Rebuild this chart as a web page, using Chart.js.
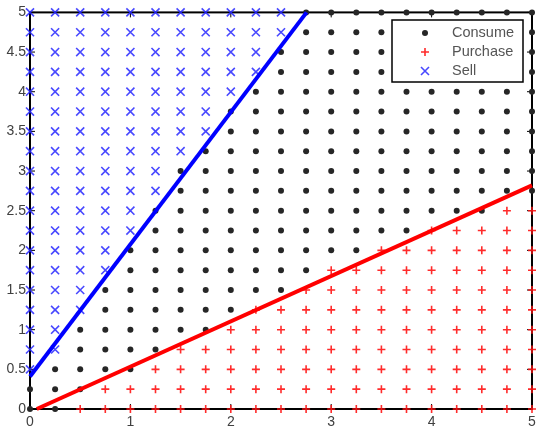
<!DOCTYPE html>
<html>
<head>
<meta charset="utf-8">
<script src="https://cdn.jsdelivr.net/npm/chart.js@4/dist/chart.umd.min.js"></script>
<style>
html,body{margin:0;padding:0;background:#ffffff;}
#wrap{width:541px;height:435px;position:relative;}
canvas{display:block;}
</style>
</head>
<body>
<div id="wrap"><canvas id="c" width="541" height="435"></canvas></div>
<script>
// ---- data ----
const gridX = [0,0.25,0.5,0.75,1,1.25,1.5,1.75,2,2.25,2.5,2.75,3,3.25,3.5,3.75,4,4.25,4.5,4.75,5];
const gridY = [0,0.25,0.5,0.75,1,1.25,1.5,1.75,2,2.25,2.5,2.75,3,3.25,3.5,3.75,4,4.25,4.5,4.75,5];
// lowest y marked "Sell" in each column of gridX (null = none)
const sellFromY = [0.5,0.75,1.25,1.75,2.25,2.75,3.25,3.5,4,4.25,4.75,null,null,null,null,null,null,null,null,null,null];
// highest y marked "Purchase" in each column of gridX (null = none)
const purchaseUpToY = [null,null,0,0.25,0.25,0.5,0.75,0.75,1,1.25,1.25,1.5,1.75,1.75,2,2,2.25,2.25,2.25,2.5,2.5];
// boundary lines
const sellLine = [{x:0,y:0.41},{x:2.755,y:5}];
const purchaseLine = [{x:0.067,y:0},{x:5,y:2.82}];
const seriesNames = ['Consume','Purchase','Sell'];
const xTicks = [0,1,2,3,4,5];
const yTicks = [0,0.5,1,1.5,2,2.5,3,3.5,4,4.5,5];

// ---- build point sets ----
const consumePts = [], purchasePts = [], sellPts = [];
gridX.forEach((x, i) => {
  gridY.forEach(y => {
    const s = sellFromY[i], p = purchaseUpToY[i];
    if (s !== null && y >= s) sellPts.push({x, y});
    else if (p !== null && y <= p) purchasePts.push({x, y});
    else consumePts.push({x, y});
  });
});

const COL_CONSUME = '#262626';
const COL_PURCHASE = 'rgba(255,20,20,0.9)';
const COL_SELL = 'rgba(40,40,255,0.85)';
const FONT = "'Liberation Sans', Arial, sans-serif";

const frame = {
  id: 'frame',
  beforeDatasetsDraw(chart) {
    const {ctx, chartArea: a, scales} = chart;
    ctx.save();
    ctx.strokeStyle = '#000';
    ctx.lineWidth = 1;
    const tl = 5;
    ctx.beginPath();
    xTicks.forEach(v => {
      const px = scales.x.getPixelForValue(v);
      ctx.moveTo(px, a.bottom); ctx.lineTo(px, a.bottom - tl);
      ctx.moveTo(px, a.top); ctx.lineTo(px, a.top + tl);
    });
    yTicks.forEach(v => {
      const py = scales.y.getPixelForValue(v);
      ctx.moveTo(a.left, py); ctx.lineTo(a.left + tl, py);
      ctx.moveTo(a.right, py); ctx.lineTo(a.right - tl, py);
    });
    ctx.stroke();
    ctx.lineWidth = 2;
    ctx.strokeRect(a.left, a.top, a.right - a.left, a.bottom - a.top);
    ctx.restore();
  }
};

function drawMarker(ctx, kind, x, y) {
  ctx.save();
  if (kind === 0) {
    ctx.fillStyle = COL_CONSUME;
    ctx.beginPath(); ctx.arc(x, y, 3, 0, Math.PI * 2); ctx.fill();
  } else if (kind === 1) {
    ctx.strokeStyle = COL_PURCHASE; ctx.lineWidth = 1.6;
    ctx.beginPath();
    ctx.moveTo(x - 4, y); ctx.lineTo(x + 4, y);
    ctx.moveTo(x, y - 4); ctx.lineTo(x, y + 4);
    ctx.stroke();
  } else {
    ctx.strokeStyle = COL_SELL; ctx.lineWidth = 1.6;
    ctx.beginPath();
    ctx.moveTo(x - 4, y - 4); ctx.lineTo(x + 4, y + 4);
    ctx.moveTo(x + 4, y - 4); ctx.lineTo(x - 4, y + 4);
    ctx.stroke();
  }
  ctx.restore();
}

const boxLegend = {
  id: 'boxLegend',
  afterDatasetsDraw(chart) {
    const {ctx} = chart;
    const L = 392, T = 20, W = 131, H = 62;
    ctx.save();
    ctx.fillStyle = '#fff';
    ctx.fillRect(L, T, W, H);
    ctx.strokeStyle = '#000';
    ctx.lineWidth = 1.5;
    ctx.strokeRect(L, T, W, H);
    ctx.font = '14.5px ' + FONT;
    ctx.textBaseline = 'middle';
    ctx.textAlign = 'left';
    seriesNames.forEach((name, i) => {
      const y = T + 13 + i * 19;
      drawMarker(ctx, i, 425, y);
      ctx.fillStyle = '#555555';
      ctx.fillText(name, 452, y);
    });
    ctx.restore();
  }
};

new Chart(document.getElementById('c'), {
  type: 'scatter',
  data: {
    datasets: [
      {label: 'sellLine', type: 'line', data: sellLine, borderColor: '#0000ff', borderWidth: 4,
       pointRadius: 0, fill: false, showLine: true, order: 0, clip: false},
      {label: 'purchaseLine', type: 'line', data: purchaseLine, borderColor: '#ff0000', borderWidth: 4,
       pointRadius: 0, fill: false, showLine: true, order: 0, clip: false},
      {label: seriesNames[0], data: consumePts, pointStyle: 'circle', pointRadius: 3,
       backgroundColor: COL_CONSUME, borderColor: COL_CONSUME, borderWidth: 0, order: 1, clip: false},
      {label: seriesNames[1], data: purchasePts, pointStyle: 'cross', pointRadius: 4,
       backgroundColor: COL_PURCHASE, borderColor: COL_PURCHASE, borderWidth: 1.6, order: 1, clip: false},
      {label: seriesNames[2], data: sellPts, pointStyle: 'crossRot', pointRadius: 5.7,
       backgroundColor: COL_SELL, borderColor: COL_SELL, borderWidth: 1.6, order: 1, clip: false}
    ]
  },
  options: {
    responsive: false,
    animation: false,
    devicePixelRatio: 1,
    layout: {padding: {top: 12, right: 9, left: 0, bottom: 0}},
    plugins: {legend: {display: false}, tooltip: {enabled: false}},
    scales: {
      x: {
        type: 'linear', min: 0, max: 5,
        afterBuildTicks(s) { s.ticks = xTicks.map(v => ({value: v})); },
        ticks: {padding: 5, color: '#404040', font: {family: FONT, size: 14}, maxRotation: 0, autoSkip: false,
                callback: v => String(v)},
        grid: {display: false, drawTicks: false},
        border: {display: false},
        afterFit(s) { s.height = 26; }
      },
      y: {
        type: 'linear', min: 0, max: 5,
        afterBuildTicks(s) { s.ticks = yTicks.map(v => ({value: v})); },
        ticks: {padding: 4, color: '#404040', font: {family: FONT, size: 14}, autoSkip: false,
                callback: v => String(v)},
        grid: {display: false, drawTicks: false},
        border: {display: false},
        afterFit(s) { s.width = 30; }
      }
    }
  },
  plugins: [frame, boxLegend]
});
</script>
</body>
</html>
